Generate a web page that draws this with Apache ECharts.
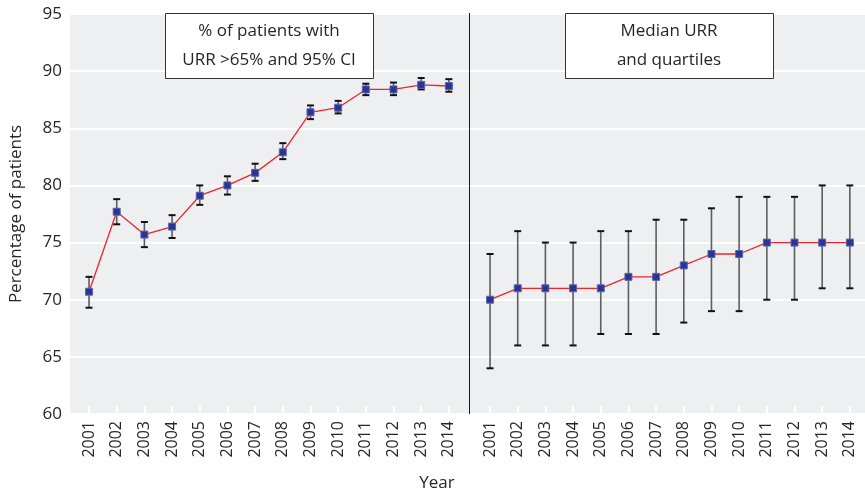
<!DOCTYPE html>
<html>
<head>
<meta charset="utf-8">
<script src="https://cdn.jsdelivr.net/npm/echarts@6/dist/echarts.min.js"></script>
<style>html,body{margin:0;padding:0;background:#fff;}#c{width:865px;height:494px;}</style>
</head>
<body>
<div id="c"></div>
<script>
var years = ['2001','2002','2003','2004','2005','2006','2007','2008','2009','2010','2011','2012','2013','2014'];
var pctValue = [70.7, 77.7, 75.7, 76.4, 79.1, 80.0, 81.1, 82.9, 86.4, 86.8, 88.4, 88.4, 88.8, 88.7];
var pctLow   = [69.3, 76.6, 74.6, 75.4, 78.3, 79.2, 80.4, 82.3, 85.8, 86.3, 87.9, 87.9, 88.4, 88.2];
var pctHigh  = [72.0, 78.8, 76.8, 77.4, 80.0, 80.8, 81.9, 83.7, 87.0, 87.4, 88.9, 89.0, 89.4, 89.3];
var urrMedian = [70, 71, 71, 71, 71, 72, 72, 73, 74, 74, 75, 75, 75, 75];
var urrQ1     = [64, 66, 66, 66, 67, 67, 67, 68, 69, 69, 70, 70, 71, 71];
var urrQ3     = [74, 76, 75, 75, 76, 76, 77, 77, 78, 79, 79, 79, 80, 80];
var yTicks = [60, 65, 70, 75, 80, 85, 90, 95];

var FONT = '"Open Sans", "Noto Sans", sans-serif';
var TXT = '#262626';

function errData(lo, hi) {
  return years.map(function (y, i) { return [i, lo[i], hi[i]]; });
}
function renderErr(params, api) {
  var p1 = api.coord([api.value(0), api.value(1)]);
  var p2 = api.coord([api.value(0), api.value(2)]);
  var w = 3.5;
  return {
    type: 'group',
    children: [
      { type: 'line', shape: { x1: p1[0], y1: p1[1], x2: p2[0], y2: p2[1] }, style: { stroke: '#5e5e5e', lineWidth: 1.6 } },
      { type: 'line', shape: { x1: p1[0] - w, y1: p1[1], x2: p1[0] + w, y2: p1[1] }, style: { stroke: '#111', lineWidth: 2 } },
      { type: 'line', shape: { x1: p2[0] - w, y1: p2[1], x2: p2[0] + w, y2: p2[1] }, style: { stroke: '#111', lineWidth: 2 } }
    ]
  };
}
function catAxis(gi) {
  return {
    type: 'category', gridIndex: gi, data: years, boundaryGap: true,
    axisLine: { show: false },
    axisTick: { show: true, inside: true, alignWithLabel: true, length: 8, lineStyle: { color: '#fff', width: 2 } },
    axisLabel: { rotate: 90, fontSize: 16, color: TXT, fontFamily: FONT, margin: 7 },
    splitLine: { show: false }, z: 5
  };
}
function hidY(gi) {
  return { type: 'value', gridIndex: gi, min: 60, max: 95, show: false, splitLine: { show: false } };
}
var lineStyle = { color: '#ee2428', width: 1.3 };
var itemStyle = { color: '#2b3590', borderColor: '#5865b5', borderWidth: 1 };

var chart = echarts.init(document.getElementById('c'), null, { renderer: 'canvas' });
chart.setOption({
  animation: false,
  backgroundColor: '#fff',
  grid: [
    { left: 69, right: 0, top: 14, bottom: 80, show: true, backgroundColor: '#eeeff1', borderWidth: 0 },
    { left: 75.2, width: 387.5, top: 14, bottom: 80 },
    { left: 476.2, width: 387.5, top: 14, bottom: 80 }
  ],
  xAxis: [
    { type: 'value', gridIndex: 0, min: 0, max: 1, show: false },
    catAxis(1),
    catAxis(2)
  ],
  yAxis: [
    { type: 'value', gridIndex: 0, min: yTicks[0], max: yTicks[yTicks.length - 1], interval: 5,
      name: 'Percentage of patients', nameLocation: 'middle', nameGap: 45,
      nameTextStyle: { fontSize: 17, color: TXT, fontFamily: FONT },
      axisLine: { show: false }, axisTick: { show: false },
      axisLabel: { fontSize: 17, color: TXT, fontFamily: FONT, margin: 8 },
      splitLine: { show: true, lineStyle: { color: '#fff', width: 2 } } },
    hidY(1), hidY(2)
  ],
  series: [
    { type: 'custom', xAxisIndex: 1, yAxisIndex: 1, renderItem: renderErr, data: errData(pctLow, pctHigh), z: 2 },
    { type: 'line', xAxisIndex: 1, yAxisIndex: 1, data: pctValue, symbol: 'rect', symbolSize: 7,
      lineStyle: lineStyle, itemStyle: itemStyle, z: 3 },
    { type: 'custom', xAxisIndex: 2, yAxisIndex: 2, renderItem: renderErr, data: errData(urrQ1, urrQ3), z: 2 },
    { type: 'line', xAxisIndex: 2, yAxisIndex: 2, data: urrMedian, symbol: 'rect', symbolSize: 7,
      lineStyle: lineStyle, itemStyle: itemStyle, z: 3 }
  ],
  graphic: [
    { type: 'line', shape: { x1: 469.5, y1: 13, x2: 469.5, y2: 414 }, style: { stroke: '#1a1a1a', lineWidth: 1 }, z: 10 },
    { type: 'rect', shape: { x: 165.5, y: 13.5, width: 208, height: 65 }, style: { fill: '#fff', stroke: '#333', lineWidth: 1 }, z: 10 },
    { type: 'text', x: 269, y: 46, style: { text: '% of patients with\nURR >65% and 95% CI', fill: TXT, font: '17px ' + FONT, textAlign: 'center', textVerticalAlign: 'middle', lineHeight: 29 }, z: 11 },
    { type: 'rect', shape: { x: 565.5, y: 13.5, width: 208, height: 65 }, style: { fill: '#fff', stroke: '#333', lineWidth: 1 }, z: 10 },
    { type: 'text', x: 669, y: 46, style: { text: 'Median URR\nand quartiles', fill: TXT, font: '17px ' + FONT, textAlign: 'center', textVerticalAlign: 'middle', lineHeight: 29 }, z: 11 },
    { type: 'text', x: 437, y: 483, style: { text: 'Year', fill: TXT, font: '17px ' + FONT, textAlign: 'center', textVerticalAlign: 'middle' }, z: 11 }
  ]
});
</script>
</body>
</html>
